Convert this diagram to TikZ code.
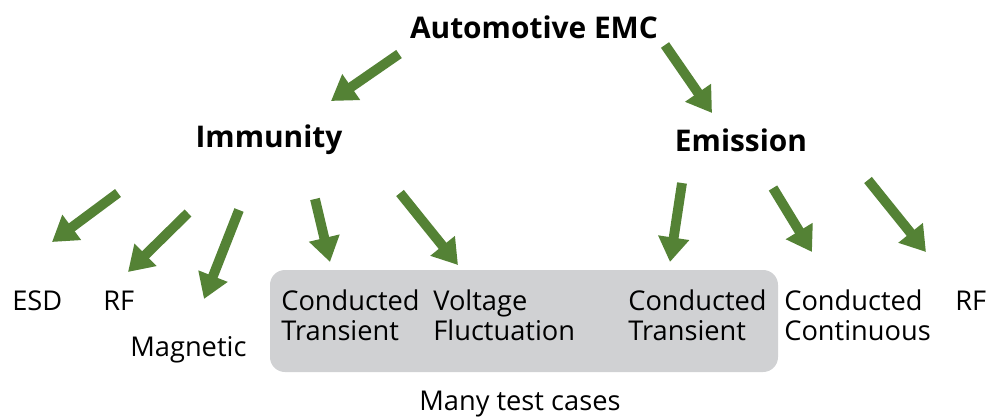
\documentclass[tikz,border=0pt]{standalone}
\usepackage{fontspec}
\setmainfont{Open Sans}
\usetikzlibrary{arrows.meta}

\definecolor{leafgreen}{RGB}{84,130,53}
\definecolor{boxgray}{RGB}{208,209,211}

\tikzset{
  branch/.style={draw=leafgreen, line width=5.6pt, -{Triangle[width=17pt,length=14pt]}},
  title/.style={font=\fontsize{17}{21}\selectfont\bfseries},
  leaf/.style={font=\fontsize{15.5}{17}\selectfont, align=left, anchor=base west, inner sep=0pt},
}

\begin{document}
\begin{tikzpicture}[x=0.02cm, y=-0.02cm]

  \useasboundingbox (0,0) rectangle (987,416);

  % Shared box for the test cases
  \fill[boxgray, rounded corners=8.5pt] (270,270) rectangle (778,372);

  % Headings
  \node[title] (emc) at (534,27) {Automotive EMC};
  \node[title] (imm) at (269,140) {Immunity};
  \node[title] (emi) at (741,140) {Emission};

  % Immunity tests (base = last line)
  \node[leaf] (esd) at (12,310) {ESD};
  \node[leaf] (rfA) at (103,310) {RF};
  \node[leaf] (mag) at (130,356) {Magnetic};
  \node[leaf] (ctA) at (281,340) {Conducted\\Transient};
  \node[leaf] (volt) at (433,340) {Voltage\\Fluctuation};

  % Emission tests
  \node[leaf] (ctB) at (628,340) {Conducted\\Transient};
  \node[leaf] (cont) at (784,340) {Conducted\\Continuous};
  \node[leaf] (rfB) at (955,310) {RF};

  \node[leaf] (many) at (419,410) {Many test cases};

  % Arrow ends
  \coordinate (emc-l) at (399,54);   \coordinate (imm-in) at (331,101);
  \coordinate (emc-r) at (665,45);   \coordinate (emi-in) at (712,113);
  \coordinate (imm-1) at (118,193);  \coordinate (esd-in) at (52,242);
  \coordinate (imm-2) at (188,213);  \coordinate (rfA-in) at (128,272);
  \coordinate (imm-3) at (239,210);  \coordinate (mag-in) at (204,299);
  \coordinate (imm-4) at (315,199);  \coordinate (ctA-in) at (330,262);
  \coordinate (imm-5) at (400,193);  \coordinate (volt-in) at (458,265);
  \coordinate (emi-1) at (682,183);  \coordinate (ctB-in) at (670,262);
  \coordinate (emi-2) at (773,188);  \coordinate (cont-in) at (812,252);
  \coordinate (emi-3) at (868,180);  \coordinate (rfB-in) at (926,252);

  % Branches
  \draw[branch] (emc-l) -- (imm-in);
  \draw[branch] (emc-r) -- (emi-in);
  \draw[branch] (imm-1) -- (esd-in);
  \draw[branch] (imm-2) -- (rfA-in);
  \draw[branch] (imm-3) -- (mag-in);
  \draw[branch] (imm-4) -- (ctA-in);
  \draw[branch] (imm-5) -- (volt-in);
  \draw[branch] (emi-1) -- (ctB-in);
  \draw[branch] (emi-2) -- (cont-in);
  \draw[branch] (emi-3) -- (rfB-in);

\end{tikzpicture}
\end{document}
